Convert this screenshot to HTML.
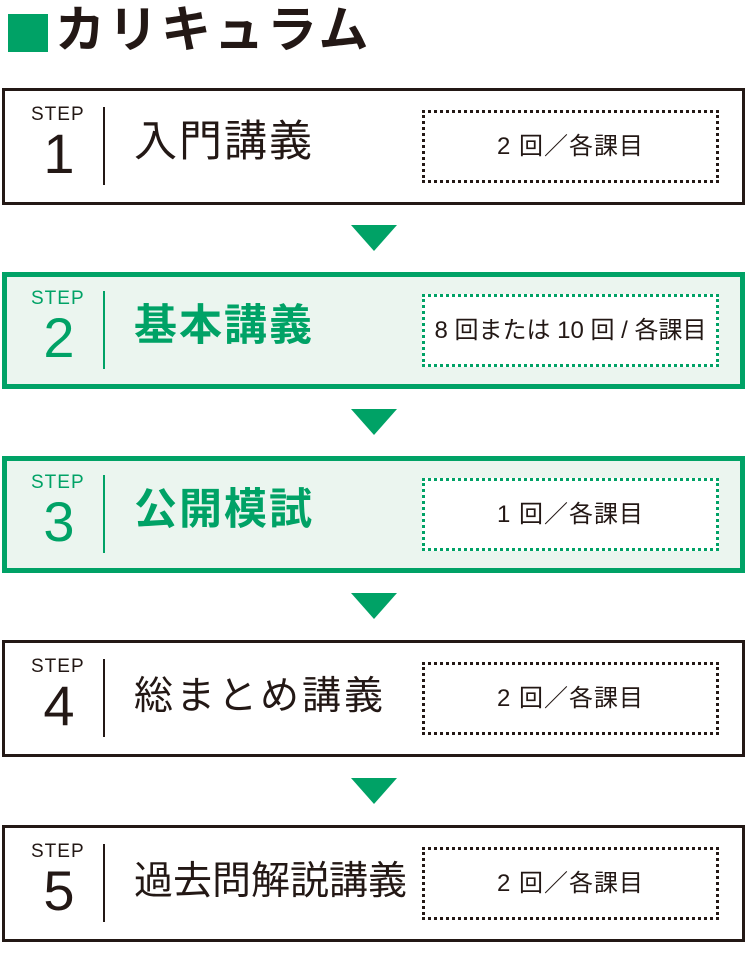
<!DOCTYPE html>
<html><head><meta charset="utf-8"><style>
body{margin:0;width:753px;height:954px;background:#fff;position:relative;font-family:"Liberation Sans","Noto Sans CJK JP",sans-serif;overflow:hidden}
.h{position:absolute;left:8px;top:14px;width:40px;height:38px;background:#00a266}
.ht{position:absolute;left:55px;top:-2px;font-size:50px;font-weight:bold;color:#231815;line-height:64px;letter-spacing:3px}
.box{position:absolute;left:2px;width:737px;height:111px;border:3px solid #231815;background:#fff;color:#231815}
.g{border:5px solid #00a266;width:733px;height:107px;background:#ebf5ef;color:#00a266}
.step{position:absolute;left:26px;top:13px;font-size:19px;letter-spacing:1px;width:60px}
.num{position:absolute;left:26px;top:33px;width:56px;text-align:center;font-size:56px;line-height:60px}
.div{position:absolute;left:98px;top:16px;width:1.5px;height:78px;background:currentColor}
.t{position:absolute;left:129px;top:29px;font-size:39px;line-height:50px;letter-spacing:0px}
.t4{font-size:43px;letter-spacing:2px;top:26px}
.g .t{font-weight:bold}
.d{position:absolute;left:417px;top:19px;width:291px;height:67px;border:3px dotted #231815;background:#fff;text-align:center;line-height:67px;font-size:24px;letter-spacing:1px;color:#231815}
.g .step,.g .num,.g .div,.g .t{margin:-2px 0 0 -2px}
.g .d{border-color:#00a266;left:415px;top:17px}
.a{position:absolute;left:351px;width:0;height:0;border-left:23px solid transparent;border-right:23px solid transparent;border-top:26px solid #00a266}
</style></head><body>
<div class="h"></div><div class="ht">カリキュラム</div>
<div class="box" style="top:88px"><div class="step">STEP</div><div class="num">1</div><div class="div"></div><div class="t t4">入門講義</div><div class="d">2 回／各課目</div></div>
<div class="a" style="top:225px"></div>
<div class="box g" style="top:272px"><div class="step">STEP</div><div class="num">2</div><div class="div"></div><div class="t t4">基本講義</div><div class="d" style="letter-spacing:0">8 回または 10 回 / 各課目</div></div>
<div class="a" style="top:409px"></div>
<div class="box g" style="top:456px"><div class="step">STEP</div><div class="num">3</div><div class="div"></div><div class="t t4">公開模試</div><div class="d">1 回／各課目</div></div>
<div class="a" style="top:593px"></div>
<div class="box" style="top:640px"><div class="step">STEP</div><div class="num">4</div><div class="div"></div><div class="t" style="letter-spacing:3px">総まとめ講義</div><div class="d">2 回／各課目</div></div>
<div class="a" style="top:778px"></div>
<div class="box" style="top:825px"><div class="step">STEP</div><div class="num">5</div><div class="div"></div><div class="t">過去問解説講義</div><div class="d">2 回／各課目</div></div>
</body></html>
